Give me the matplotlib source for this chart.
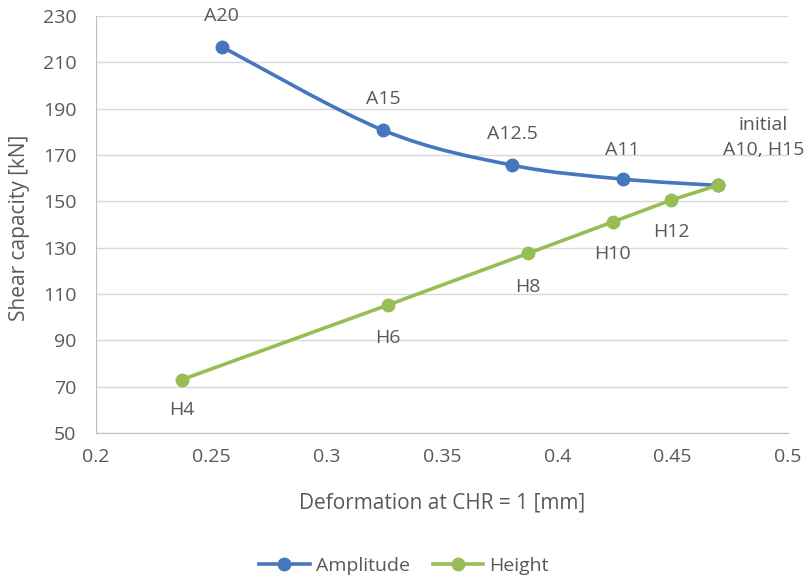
import numpy as np
import matplotlib.pyplot as plt
from matplotlib.path import Path
from matplotlib.patches import PathPatch

plt.rcParams['font.family'] = ['Open Sans', 'DejaVu Sans']

# Amplitude series (smoothed line)
amp_x = [0.2546, 0.3245, 0.3805, 0.4284, 0.4695]
amp_y = [216.7, 180.7, 165.6, 159.6, 156.9]
amp_labels = ['A20', 'A15', 'A12.5', 'A11', 'initial\nA10, H15']

# Height series (straight line)
hgt_x = [0.2374, 0.3267, 0.3874, 0.4240, 0.4495, 0.4695]
hgt_y = [73.1, 105.3, 127.6, 141.1, 150.6, 156.9]
hgt_labels = ['H4', 'H6', 'H8', 'H10', 'H12', '']

BLUE = '#4677BE'
GREEN = '#97BE55'
TXT = '#595959'

def smooth_path(xs, ys, ax):
    # excel-like smooth line: catmull-rom converted to cubic bezier, drawn in display space
    pts = ax.transData.transform(np.column_stack([xs, ys]))
    verts = [pts[0]]
    codes = [Path.MOVETO]
    n = len(pts)
    for i in range(n - 1):
        p0 = pts[i - 1] if i > 0 else pts[i]
        p1 = pts[i]
        p2 = pts[i + 1]
        p3 = pts[i + 2] if i + 2 < n else pts[i + 1]
        c1 = p1 + (p2 - p0) / 6.0
        c2 = p2 - (p3 - p1) / 6.0
        verts += [c1, c2, p2]
        codes += [Path.CURVE4] * 3
    return Path(verts, codes)

fig = plt.figure(figsize=(8.08, 5.8), dpi=100)
ax = fig.add_axes([0.1188, 0.2534, 0.8564, 0.719])
ax.set_xlim(0.2, 0.5)
ax.set_ylim(50, 230)
ax.set_xticks(np.arange(0.2, 0.501, 0.05))
ax.set_xticklabels(['0.2', '0.25', '0.3', '0.35', '0.4', '0.45', '0.5'])
ax.set_yticks(np.arange(50, 231, 20))
ax.grid(axis='y', color='#D9D9D9', lw=1)
ax.set_axisbelow(True)
for s in ['top', 'right']:
    ax.spines[s].set_visible(False)
for s in ['left', 'bottom']:
    ax.spines[s].set_color('#BFBFBF')
ax.tick_params(length=0, labelsize=14, labelcolor=TXT)
ax.tick_params(axis='y', pad=14)
ax.tick_params(axis='x', pad=11)

ax.set_xlabel('Deformation at CHR = 1 [mm]', fontsize=15, color=TXT, labelpad=19)
fig.text(19.5 / 808, 1 - 228 / 580, 'Shear capacity [kN]', rotation=90,
         ha='center', va='center', fontsize=15, color=TXT)

fig.canvas.draw()
patch = PathPatch(smooth_path(amp_x, amp_y, ax), transform=None, fill=False,
                  edgecolor=BLUE, lw=2.6, zorder=3)
ax.add_artist(patch)
ax.plot(amp_x, amp_y, ls='none', marker='o', ms=9, color=BLUE, zorder=4)
ax.plot(hgt_x, hgt_y, marker='o', ms=9, color=GREEN, lw=2.6, zorder=5)

# legend handles
ax.plot([], [], marker='o', ms=9, color=BLUE, lw=2.6, label='Amplitude')
ax.plot([], [], marker='o', ms=9, color=GREEN, lw=2.6, label='Height')
h, l = ax.get_legend_handles_labels()
fig.legend(h[-2:], l[-2:], loc='lower center', ncol=2, frameon=False,
           fontsize=14, labelcolor=TXT, bbox_to_anchor=(0.5, -0.022),
           handlelength=2.6, handletextpad=0.3, columnspacing=1.2)

amp_off = [(0, 31), (0, 31), (0, 31), (0, 29), (46, 48)]
for x, y, t, o in zip(amp_x, amp_y, amp_labels, amp_off):
    ax.annotate(t, (x, y), xytext=o, textcoords='offset pixels', ha='center',
                va='center', fontsize=14, color=TXT, linespacing=1.5)

hgt_off = [(0, -30), (0, -33), (0, -34), (0, -32), (0, -32), (0, 0)]
for x, y, t, o in zip(hgt_x, hgt_y, hgt_labels, hgt_off):
    if t:
        ax.annotate(t, (x, y), xytext=o, textcoords='offset pixels', ha='center',
                    va='center', fontsize=14, color=TXT)

fig.savefig('out.png', dpi=100)
